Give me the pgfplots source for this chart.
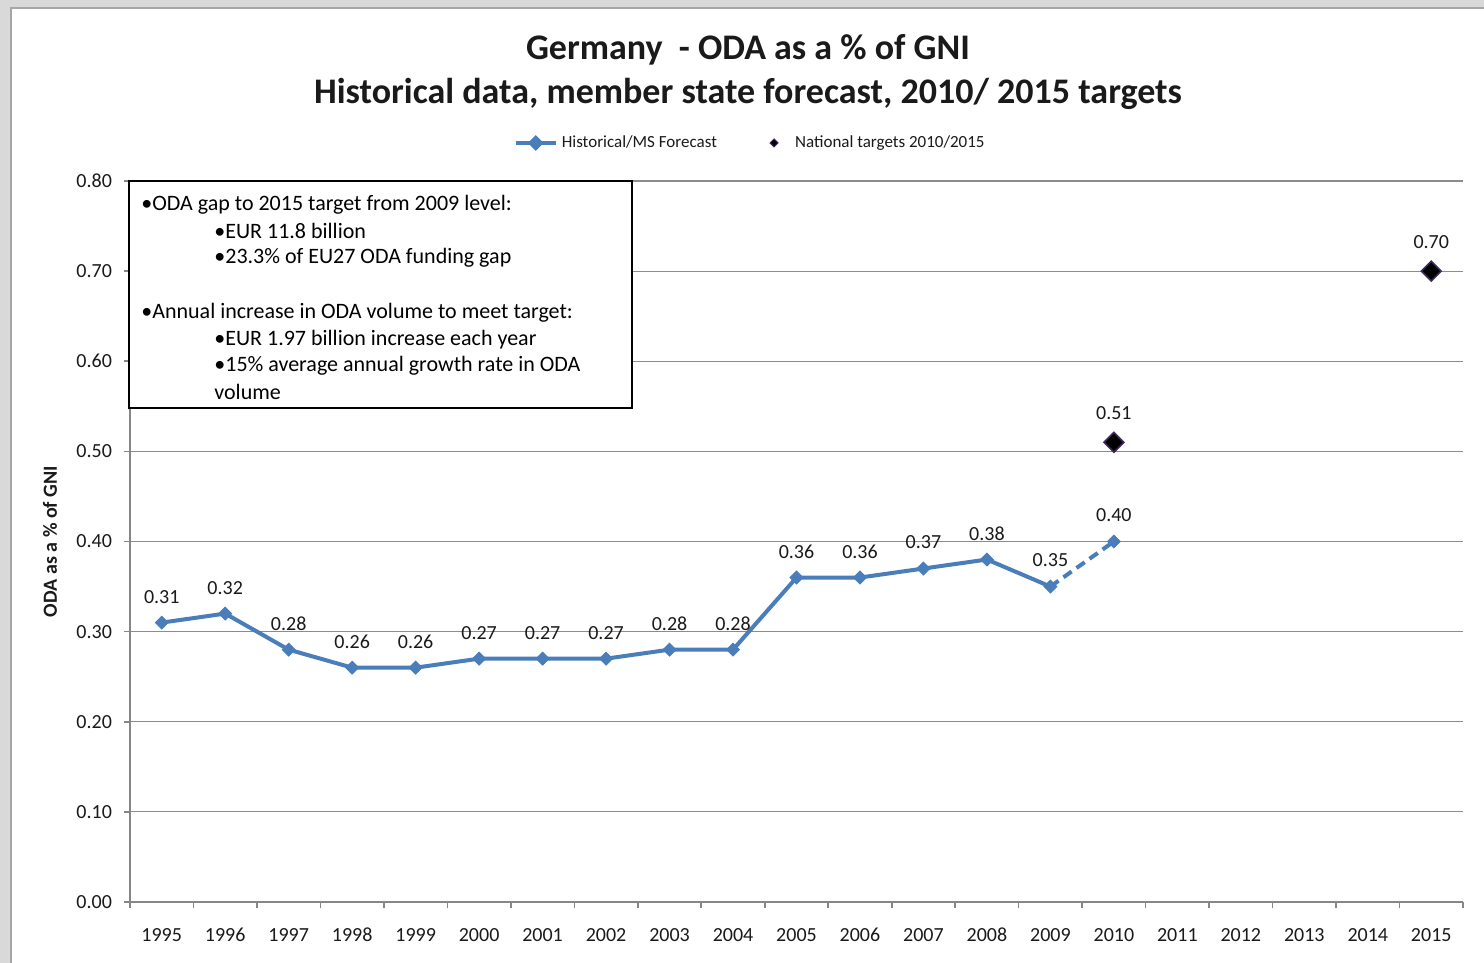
\documentclass[border=0pt]{standalone}
\usepackage{pgfplots}
\pgfplotsset{compat=1.18}
\usepackage{fontspec}
\setmainfont{Carlito}
\definecolor{oda}{HTML}{4A7EBB}
\definecolor{gridc}{HTML}{8C8C8C}
\definecolor{axc}{HTML}{868686}
\definecolor{tgt}{HTML}{3F2A5A}
\definecolor{txt}{HTML}{1A1A1A}
\begin{document}
\begin{tikzpicture}[x=0.5pt,y=0.5pt]
\fill[black!15] (0,0) rectangle (1484,963);
\fill[white] (11,0) rectangle (1484,955);
\draw[black!35, line width=0.8pt] (11,0) -- (11,955) -- (1484,955);
\node[font=\bfseries\fontsize{18}{22}\selectfont, align=center, text=txt] at (748,891) {Germany\ \ - ODA as a \% of GNI\\Historical data, member state forecast, 2010/ 2015 targets};
\begin{axis}[
 at={(65pt,30.5pt)}, anchor=south west, scale only axis,
 width=666.5pt, height=360.5pt,
 xmin=-0.5, xmax=20.5, ymin=0, ymax=0.8,
 axis x line=bottom, axis y line=left,
 axis line style={-, draw=axc, line width=1.2pt},
 xtick={0,1,2,3,4,5,6,7,8,9,10,11,12,13,14,15,16,17,18,19,20},
 xticklabels={1995,1996,1997,1998,1999,2000,2001,2002,2003,2004,2005,2006,2007,2008,2009,2010,2011,2012,2013,2014,2015},
 minor xtick={-0.5,0.5,1.5,2.5,3.5,4.5,5.5,6.5,7.5,8.5,9.5,10.5,11.5,12.5,13.5,14.5,15.5,16.5,17.5,18.5,19.5,20.5},
 ytick={0,0.1,0.2,0.3,0.4,0.5,0.6,0.7,0.8},
 tick align=outside,
 major x tick style={draw=none},
 minor x tick style={draw=axc, line width=0.8pt},
 minor tick length=3pt,
 major tick length=3pt,
 ytick style={draw=axc, line width=0.8pt},
 ymajorgrids, grid style={draw=gridc, line width=0.6pt},
 xminorgrids=false,
 /pgf/number format/assume math mode=true,
 ticklabel style={font=\fontsize{10}{12}\selectfont, text=txt},
 xticklabel style={yshift=-6.5pt},
 yticklabel style={xshift=-2.5pt, /pgf/number format/.cd, fixed, fixed zerofill, precision=2},
 ylabel={ODA as a \% of GNI},
 ylabel style={font=\bfseries\fontsize{10}{12}\selectfont, text=txt, at={(axis description cs:-0.06,0.5)}, anchor=center},
 legend style={at={(axis description cs:0.466,1.0527)}, anchor=center, draw=none, fill=none, font=\fontsize{8.5}{10}\selectfont, text=txt, legend columns=2, /tikz/every even column/.append style={column sep=18pt}},
 legend cell align=left,
]
\addplot[oda, line width=2pt, mark=square*, mark size=2.3pt, mark options={rotate=45, solid, line width=0.4pt},
 nodes near coords={\pgfmathprintnumber[fixed,fixed zerofill,precision=2]{\pgfplotspointmeta}},
 nodes near coords align={anchor=center},
 every node near coord/.append style={yshift=13pt, font=\fontsize{10}{12}\selectfont, text=txt},
 legend image code/.code={\draw[oda, line width=2pt] (0pt,0pt) -- (20pt,0pt); \fill[oda] (10pt,0pt) +(0,2.5pt) -- +(2.5pt,0) -- +(0,-2.5pt) -- +(-2.5pt,0) -- cycle;}]
 coordinates {(0,0.31)(1,0.32)(2,0.28)(3,0.26)(4,0.26)(5,0.27)(6,0.27)(7,0.27)(8,0.28)(9,0.28)(10,0.36)(11,0.36)(12,0.37)(13,0.38)(14,0.35)};
\addlegendentry{Historical/MS Forecast}
\addplot[oda, forget plot, line width=2pt, dash pattern=on 5pt off 3pt] coordinates {(14,0.35)(15,0.40)};
\addplot[oda, forget plot, only marks, mark=square*, mark size=2.3pt, mark options={rotate=45, solid, line width=0.4pt},
 nodes near coords={\pgfmathprintnumber[fixed,fixed zerofill,precision=2]{\pgfplotspointmeta}},
 nodes near coords align={anchor=center},
 every node near coord/.append style={yshift=13pt, font=\fontsize{10}{12}\selectfont, text=txt}]
 coordinates {(15,0.40)};
\addplot[only marks, mark=square*, mark size=3.5pt, mark options={rotate=45, fill=black, draw=tgt, line width=0.8pt},
 nodes near coords={\pgfmathprintnumber[fixed,fixed zerofill,precision=2]{\pgfplotspointmeta}},
 nodes near coords align={anchor=center},
 every node near coord/.append style={yshift=14.5pt, font=\fontsize{10}{12}\selectfont, text=txt},
 legend image code/.code={\path[draw=none, fill=none] (0,0) -- (0.6cm,0); \filldraw[fill=black, draw=tgt, line width=0.5pt] (0.3cm,0) +(0,2pt) -- +(2pt,0) -- +(0,-2pt) -- +(-2pt,0) -- cycle;}]
 coordinates {(15,0.51)(20,0.70)};
\addlegendentry{National targets 2010/2015}
\end{axis}
\draw[black, line width=0.7pt, fill=white] (129,555) rectangle (632,782);
\begin{scope}[every node/.style={anchor=west, inner sep=0pt, font=\fontsize{11}{13}\selectfont, text=black}]
\node at (141,758) {•ODA gap to 2015 target from 2009 level:};
\node at (214,732) {•EUR 11.8 billion};
\node at (214,705) {•23.3\% of EU27 ODA funding gap};
\node at (141,650) {•Annual increase in ODA volume to meet target:};
\node at (214,623) {•EUR 1.97 billion increase each year};
\node at (214,597) {•15\% average annual growth rate in ODA};
\node at (214,571) {volume};
\end{scope}
\pgfresetboundingbox
\useasboundingbox (0,0) rectangle (1484,963);
\end{tikzpicture}
\end{document}
